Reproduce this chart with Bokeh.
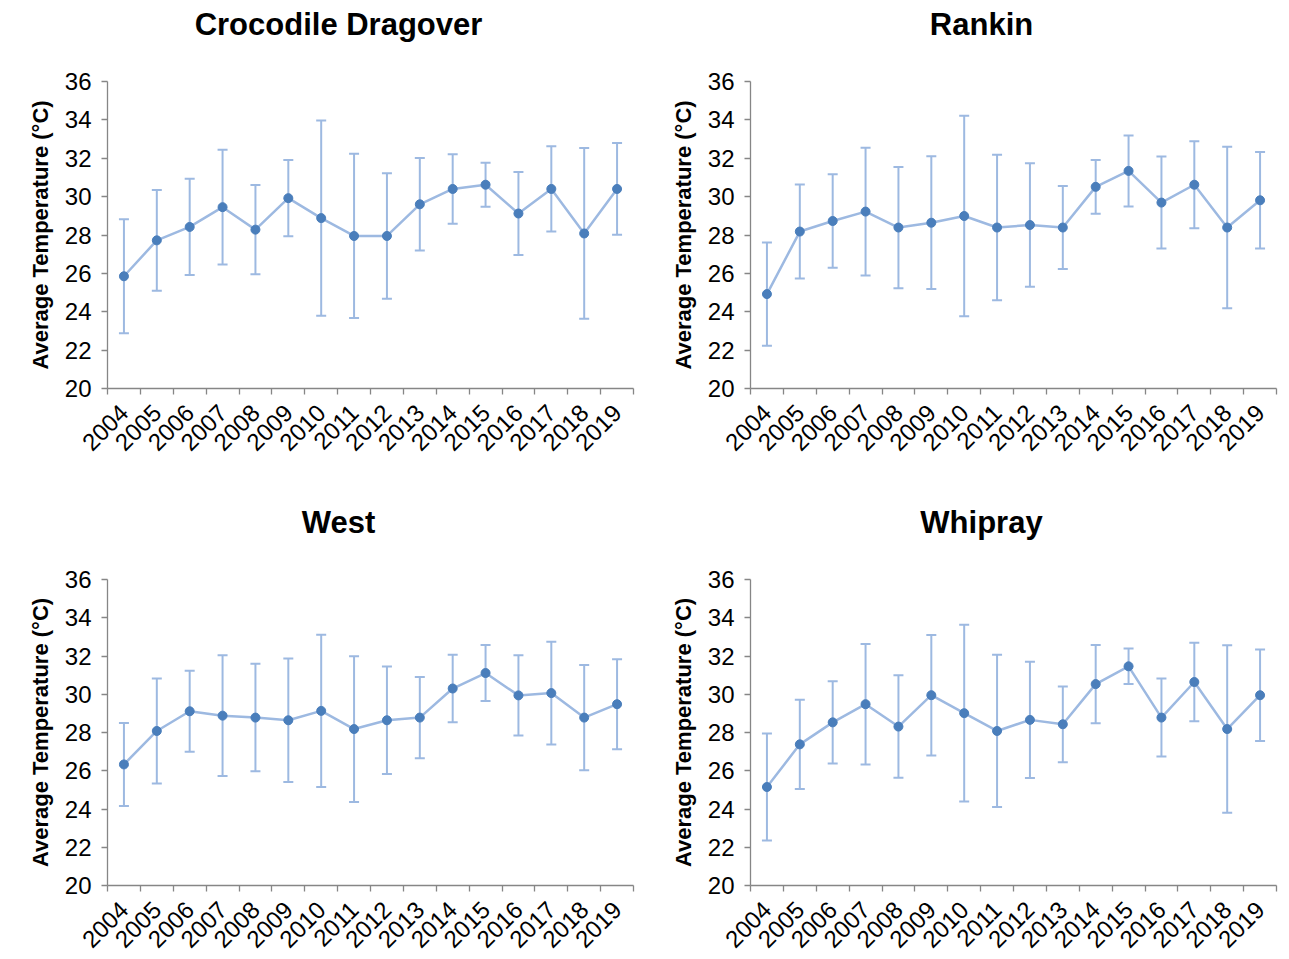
import math
import numpy as np
from bokeh.plotting import figure
from bokeh.layouts import column, row
from bokeh.models import Range1d, FixedTicker, Whisker, TeeHead, ColumnDataSource, Label
from bokeh.embed import file_html
from bokeh.resources import INLINE

# Survey years (one category per year)
years = ["2004", "2005", "2006", "2007", "2008", "2009", "2010", "2011",
         "2012", "2013", "2014", "2015", "2016", "2017", "2018", "2019"]

# Mean water temperature (°C) and ± error per site
croc_mean = [25.85, 27.72, 28.42, 29.45, 28.28, 29.92, 28.88, 27.95,
             27.95, 29.60, 30.40, 30.62, 29.12, 30.40, 28.08, 30.40]
croc_err = [2.97, 2.63, 2.51, 2.99, 2.33, 1.99, 5.09, 4.28,
            3.27, 2.41, 1.81, 1.15, 2.16, 2.22, 4.45, 2.39]

rankin_mean = [24.92, 28.18, 28.73, 29.22, 28.39, 28.64, 28.99, 28.39,
               28.52, 28.39, 30.51, 31.34, 29.69, 30.62, 28.39, 29.81]
rankin_err = [2.69, 2.45, 2.44, 3.33, 3.16, 3.46, 5.22, 3.79,
              3.22, 2.16, 1.40, 1.85, 2.40, 2.27, 4.21, 2.52]

west_mean = [26.33, 28.08, 29.11, 28.88, 28.78, 28.64, 29.13, 28.18,
             28.64, 28.78, 30.30, 31.11, 29.94, 30.06, 28.78, 29.48]
west_err = [2.17, 2.75, 2.12, 3.16, 2.81, 3.23, 3.98, 3.81,
            2.81, 2.12, 1.76, 1.46, 2.10, 2.69, 2.75, 2.35]

whipray_mean = [25.15, 27.38, 28.53, 29.48, 28.31, 29.95, 29.01, 28.08,
                28.66, 28.43, 30.53, 31.46, 28.78, 30.64, 28.18, 29.95]
whipray_err = [2.80, 2.33, 2.15, 3.15, 2.68, 3.15, 4.62, 3.98,
               3.04, 1.98, 2.04, 0.93, 2.04, 2.05, 4.38, 2.39]

y_ticks = [20, 22, 24, 26, 28, 30, 32, 34, 36]

FONT = "Liberation Sans"
AXIS_GREY = "#868686"
LINE_BLUE = "#9DB9E1"
DOT_BLUE = "#4A7EBB"


def make_panel(title, means, errs, height, border_top, border_bottom):
    n = len(years)
    xs = np.arange(n) + 0.5          # category centres
    means = np.asarray(means)
    errs = np.asarray(errs)
    src = ColumnDataSource(dict(x=xs, y=means, upper=means + errs, lower=means - errs))

    p = figure(width=643, height=height,
               x_range=Range1d(0, n), y_range=Range1d(y_ticks[0], y_ticks[-1]),
               output_backend="svg", toolbar_location=None,
               min_border_left=107, min_border_right=10,
               min_border_top=border_top, min_border_bottom=border_bottom)
    p.outline_line_color = None
    p.xgrid.visible = False
    p.ygrid.visible = False
    p.background_fill_color = "white"
    p.border_fill_color = "white"

    head = dict(size=10, line_color=LINE_BLUE, line_width=2)
    p.add_layout(Whisker(source=src, base="x", upper="upper", lower="lower",
                         line_color=LINE_BLUE, line_width=2,
                         upper_head=TeeHead(**head), lower_head=TeeHead(**head)))
    p.line("x", "y", source=src, line_color=LINE_BLUE, line_width=2.5)
    p.scatter("x", "y", source=src, size=9, fill_color=DOT_BLUE, line_color=DOT_BLUE)

    # x axis: labels at category centres, tick marks between categories
    xa = p.xaxis[0]
    xa.ticker = FixedTicker(ticks=list(xs), minor_ticks=list(range(n + 1)))
    xa.major_label_overrides = {float(x): y for x, y in zip(xs, years)}
    xa.major_tick_out = 0
    xa.major_tick_in = 0
    xa.minor_tick_out = 6
    xa.minor_tick_in = 0
    xa.major_label_orientation = math.pi / 4
    xa.major_label_standoff = 14

    ya = p.yaxis[0]
    ya.ticker = FixedTicker(ticks=y_ticks)
    ya.major_tick_out = 6
    ya.major_tick_in = 0
    ya.minor_tick_out = 0
    ya.minor_tick_in = 0
    ya.major_label_standoff = 10
    ya.axis_label = "Average Temperature (°C)"
    ya.axis_label_text_font = FONT
    ya.axis_label_text_font_style = "bold"
    ya.axis_label_text_font_size = "22px"
    ya.axis_label_text_color = "black"
    ya.axis_label_standoff = 9

    for ax in (xa, ya):
        ax.axis_line_color = AXIS_GREY
        ax.axis_line_width = 1.3
        ax.major_tick_line_color = AXIS_GREY
        ax.minor_tick_line_color = AXIS_GREY
        ax.major_tick_line_width = 1.3
        ax.minor_tick_line_width = 1.3
        ax.major_label_text_font = FONT
        ax.major_label_text_font_size = "24px"
        ax.major_label_text_color = "black"

    # panel heading, centred over the whole chart area
    p.add_layout(Label(x=231, y=57, x_units="screen", y_units="screen",
                       text=title, text_align="center", text_baseline="middle",
                       text_font=FONT, text_font_style="bold", text_font_size="31px",
                       text_color="black"), "above")
    return p


p1 = make_panel("Crocodile Dragover", croc_mean, croc_err, 498, 81, 110)
p2 = make_panel("Rankin", rankin_mean, rankin_err, 498, 81, 110)
p3 = make_panel("West", west_mean, west_err, 461, 81, 74)
p4 = make_panel("Whipray", whipray_mean, whipray_err, 461, 81, 74)

layout = column(row(p1, p2), row(p3, p4))

open("out.html", "w").write(file_html(layout, INLINE))
